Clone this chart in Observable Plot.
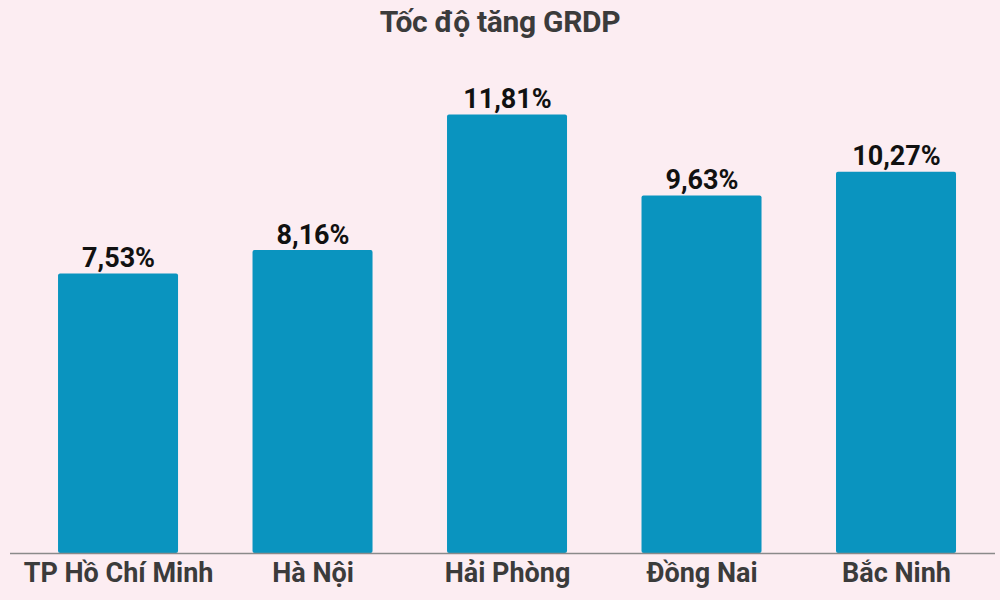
<!DOCTYPE html>
<html><head><meta charset="utf-8">
<script src="https://cdn.jsdelivr.net/npm/d3@7"></script>
<script src="https://cdn.jsdelivr.net/npm/@observablehq/plot@0.6"></script>
<style>
html,body{margin:0;padding:0;background:#fcedf2;}
#title{height:45px;line-height:44px;text-align:center;font-family:"Roboto",sans-serif;font-weight:bold;font-size:30px;color:#3b3b3b;letter-spacing:-0.3px;}
#chart svg{display:block;}
</style></head>
<body>
<div id="title">Tốc độ tăng GRDP</div>
<div id="chart"></div>
<script>
const provinces = ["TP Hồ Chí Minh", "Hà Nội", "Hải Phòng", "Đồng Nai", "Bắc Ninh"];
const growth = [7.53, 8.16, 11.81, 9.63, 10.27];
const data = provinces.map((p, i) => ({province: p, value: growth[i]}));
const fmt = v => v.toFixed(2).replace(".", ",") + "%";

const chart = Plot.plot({
  width: 1000,
  height: 555,
  marginLeft: 10,
  marginRight: 5,
  marginTop: 44,
  marginBottom: 47,
  style: {background: "transparent", fontFamily: "Roboto, sans-serif"},
  x: {domain: provinces, paddingInner: 0.383, paddingOuter: 0.2237, align: 0.552, round: false, label: null},
  y: {domain: [0, 12.5], axis: null},
  marks: [
    Plot.barY(data, {x: "province", y: "value", fill: "#0a94bf", rx: 2}),
    Plot.ruleY([0], {stroke: "#8a8a8a", strokeWidth: 1.5}),
    Plot.text(data, {x: "province", y: "value", text: d => fmt(d.value), lineAnchor: "bottom", dy: -7, fontSize: 27, fontWeight: "bold", fill: "#111", letterSpacing: "-0.3px"}),
    Plot.axisX({tickSize: 0, tickPadding: 9, fontSize: 27, fontWeight: "bold", color: "#3b3b3b", label: null, lineAnchor: "top"})
  ]
});
document.getElementById("chart").appendChild(chart);
</script>
</body></html>
